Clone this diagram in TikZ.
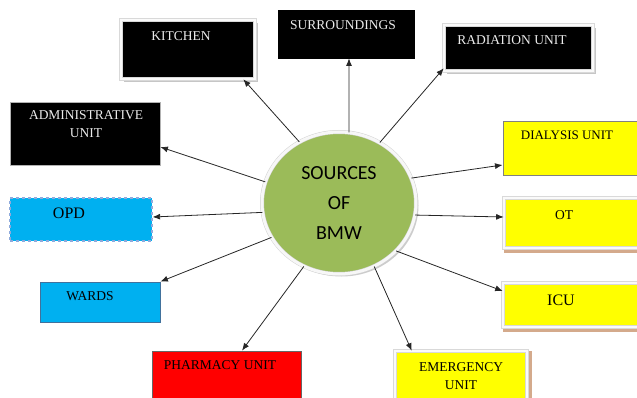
\documentclass[tikz,border=0pt]{standalone}
\usepackage{fontspec}
\setmainfont{Liberation Serif}
\newfontfamily\calibrifont{Carlito}
\usetikzlibrary{shapes.geometric,shadows,arrows.meta}

\definecolor{bmwgreen}{RGB}{155,187,89}
\definecolor{wardblue}{RGB}{0,176,240}
\definecolor{unityellow}{RGB}{255,255,0}
\definecolor{tanshade}{RGB}{212,170,140}
\definecolor{slateline}{RGB}{65,113,156}
\definecolor{dashline}{RGB}{143,170,220}

\newcommand\boxfont{\fontsize{13.5}{18}\selectfont}
\newcommand\bigboxfont{\fontsize{16}{19}\selectfont}

\tikzset{
	unitbox/.style={rectangle, inner sep=0pt, line width=0.8pt},
	whiteframe/.style={draw=gray!30, double=gray!4, double distance=2.6pt, line width=0.6pt},
	greyshadow/.style={drop shadow={shadow xshift=2.6pt, shadow yshift=-2.6pt, fill=gray!45, opacity=1}},
	tanbottom/.style={drop shadow={shadow xshift=0pt, shadow yshift=-4.5pt, fill=tanshade, opacity=1}},
	tanright/.style={drop shadow={shadow xshift=4.5pt, shadow yshift=0pt, fill=tanshade, opacity=1}},
	wtxt/.style={text=white!92!black, font=\boxfont, inner sep=0pt},
	btxt/.style={text=black, font=\boxfont, inner sep=0pt},
	link/.style={-{Latex[length=7.5pt,width=6pt]}, line width=0.8pt, black!85}
}

\begin{document}
\begin{tikzpicture}[x=1pt, y=-1pt]
	\clip (0,0) rectangle (637,398);

	% the source in the middle
	\node[ellipse, fill=bmwgreen, draw=gray!35, double=gray!6, double distance=3pt, line width=0.5pt,
		drop shadow={shadow xshift=2.5pt, shadow yshift=-2.5pt, fill=gray!40, opacity=1},
		minimum width=154, minimum height=142, align=center,
		font=\calibrifont\fontsize{20}{30}\selectfont] (bmw) at (339,203) {SOURCES\\OF\\BMW};

	% units
	\node[unitbox, fill=black, whiteframe, greyshadow, minimum width=134, minimum height=59] (kitchen) at (188,49.5) {};
	\node[unitbox, fill=black, draw=black, minimum width=136, minimum height=48] (surround) at (346,34) {};
	\node[unitbox, fill=black, whiteframe, greyshadow, minimum width=149, minimum height=46] (radiation) at (518.5,48) {};
	\node[unitbox, fill=black, draw=gray!60, minimum width=150, minimum height=63] (admin) at (85,133.5) {};
	\node[unitbox, fill=unityellow, draw=black!50, line width=1pt, minimum width=157, minimum height=54] (dialysis) at (581.5,149) {};
	\node[unitbox, fill=unityellow, whiteframe, tanbottom, minimum width=158, minimum height=50] (ot) at (583,223) {};
	\node[unitbox, fill=unityellow, whiteframe, tanbottom, minimum width=159, minimum height=44] (icu) at (582.5,305) {};
	\node[unitbox, fill=unityellow, whiteframe, tanright, minimum width=132, minimum height=61] (emergency) at (461,381.5) {};
	\node[unitbox, fill=wardblue, draw=dashline, dashed, line width=1.2pt, minimum width=142, minimum height=43] (opd) at (81,219.5) {};
	\node[unitbox, fill=wardblue, draw=slateline, minimum width=120, minimum height=40] (wards) at (100,302) {};
	\node[unitbox, fill=red, draw=black!60, minimum width=149, minimum height=59] (pharmacy) at (226.5,380.5) {};

	% labels
	\node[wtxt] (kitchenlbl) at (181,36) {KITCHEN};
	\node[wtxt] (surroundlbl) at (343,25) {SURROUNDINGS};
	\node[wtxt] (radiationlbl) at (512,40) {RADIATION UNIT};
	\node[wtxt, align=center] (adminlbl) at (86,124.5) {ADMINISTRATIVE\\UNIT};
	\node[btxt, font=\fontsize{13}{16}\selectfont] (dialysislbl) at (567,135) {DIALYSIS UNIT};
	\node[btxt] (otlbl) at (564,215) {OT};
	\node[btxt, font=\bigboxfont] (iculbl) at (561,300) {ICU};
	\node[btxt, align=center] (emergencylbl) at (461,376) {EMERGENCY\\UNIT};
	\node[btxt, font=\bigboxfont] (opdlbl) at (69,213) {OPD};
	\node[btxt] (wardslbl) at (90,296) {WARDS};
	\node[btxt] (pharmacylbl) at (220,365) {PHARMACY UNIT};

	% arrows out of the source
	\draw[link] (bmw.123) -- ([xshift=-12pt]kitchen.south east);
	\draw[link] (bmw.82) -- ([xshift=3pt]surround.south);
	\draw[link] (bmw.56) -- ([yshift=3pt]radiation.south west);
	\draw[link] (bmw.164) -- ([yshift=-13.5pt]admin.east);
	\draw[link] (bmw.19) -- ([yshift=-16pt]dialysis.west);
	\draw[link] (bmw.187) -- ([yshift=2.5pt]opd.east);
	\draw[link] (bmw.207) -- (wards.north east);
	\draw[link] (bmw.241) -- ([xshift=15.5pt]pharmacy.north);
	\draw[link] (bmw.299) -- ([xshift=17pt]emergency.north west);
	\draw[link] (bmw.320) -- ([yshift=14pt]icu.west);
	\draw[link] (bmw.351) -- ([yshift=6pt]ot.west);
\end{tikzpicture}
\end{document}
